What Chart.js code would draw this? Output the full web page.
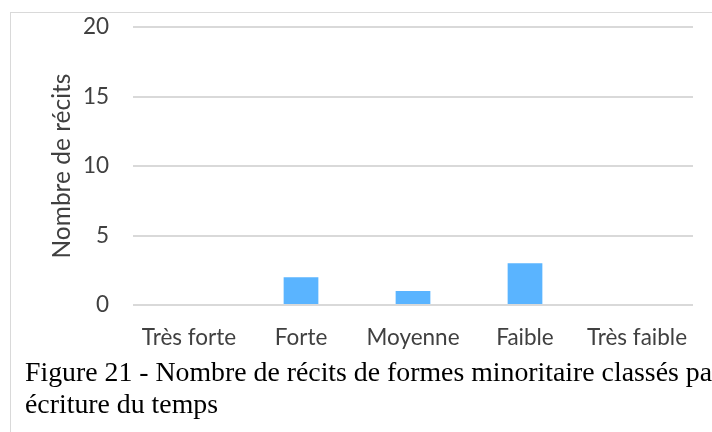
<!DOCTYPE html>
<html>
<head>
<meta charset="utf-8">
<script src="https://cdn.jsdelivr.net/npm/chart.js@4/dist/chart.umd.min.js"></script>
<style>
  html, body { margin: 0; padding: 0; background: #fff; width: 712px; height: 432px; overflow: hidden; }
  #frame { position: absolute; left: 10px; top: 12px; width: 760px; height: 480px; border: 1px solid #d9d9d9; box-sizing: border-box; }
  #wrap { position: absolute; left: 0; top: 0; width: 712px; height: 360px; }
  #caption { position: absolute; left: 25px; top: 356px; width: 900px; font-family: "Liberation Serif", serif; font-size: 27.8px; line-height: 32px; color: #000; white-space: nowrap; }
</style>
</head>
<body>
<div id="frame"></div>
<div id="wrap"><canvas id="c" width="712" height="360"></canvas></div>
<div id="caption">Figure 21 - Nombre de récits de formes minoritaire classés par<br>écriture du temps</div>
<script>
const categories = ["Très forte", "Forte", "Moyenne", "Faible", "Très faible"];
const values = [0, 2, 1, 3, 0];
const yTicks = [0, 5, 10, 15, 20];
const yTitle = "Nombre de récits";

const textColor = "#404040";
const gridColor = "#d9d9d9";
const tickFont = { family: "Lato, 'Open Sans', sans-serif", size: 22.5 };
const titleFont = { family: "Lato, 'Open Sans', sans-serif", size: 24.5 };

new Chart(document.getElementById("c"), {
  type: "bar",
  data: {
    labels: categories,
    datasets: [{
      data: values,
      backgroundColor: "#5AB4FF",
      categoryPercentage: 1,
      barPercentage: 0.31
    }]
  },
  options: {
    responsive: false,
    animation: false,
    devicePixelRatio: 1,
    layout: { padding: { left: 47, right: 19, top: 27, bottom: 0 } },
    plugins: { legend: { display: false }, tooltip: { enabled: false } },
    scales: {
      x: {
        grid: { display: false, drawTicks: false },
        border: { display: false },
        ticks: { color: textColor, font: tickFont, padding: 19 },
        afterFit: s => { s.height = 55; }
      },
      y: {
        min: 0, max: 20,
        afterBuildTicks: s => { s.ticks = yTicks.map(v => ({ value: v })); },
        grid: { color: gridColor, lineWidth: 2, drawTicks: false },
        border: { display: false },
        ticks: { color: textColor, font: tickFont, padding: 24 },
        title: { display: true, text: yTitle, color: textColor, font: titleFont, padding: 0 },
        afterFit: s => { s.width = 86; s.paddingTop = 0; s.paddingBottom = 0; }
      }
    }
  }
});
</script>
</body>
</html>
